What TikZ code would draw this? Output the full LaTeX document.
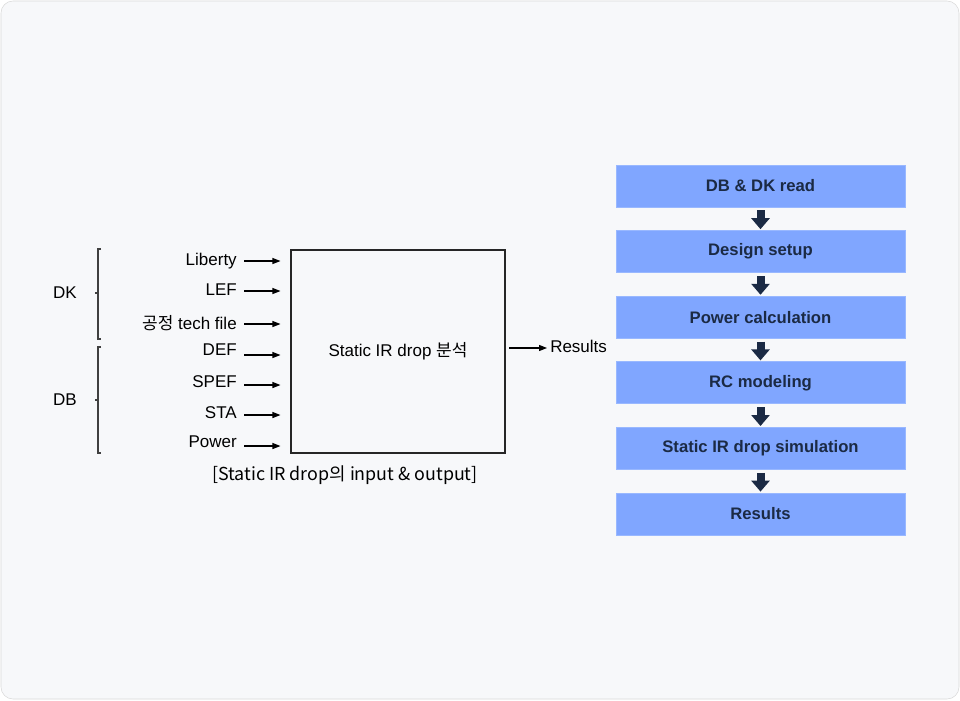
\documentclass[tikz,border=0pt]{standalone}
\usepackage{fontspec}
\setmainfont{Liberation Sans}
\newfontfamily\kr{Noto Sans CJK KR}
\usepackage{tikz}
\usetikzlibrary{arrows.meta,positioning,calc}

\definecolor{panel}{HTML}{F7F8FA}
\definecolor{stepblue}{HTML}{80A6FF}
\definecolor{navy}{HTML}{1B2A44}

\tikzset{
  inarrow/.style={-{Triangle[length=6pt,width=4.5pt]}, line width=0.8pt},
  inlabel/.style={anchor=base east, inner sep=0pt},
  brace/.style={draw=black!75, line width=0.8pt},
  stepbox/.style={fill=stepblue, draw=stepblue!80!white, line width=0.6pt,
    minimum width=216.75pt, minimum height=31.5pt, inner sep=0pt,
    text=navy, font=\fontsize{12.5}{14}\selectfont\bfseries},
  flowarrow/.style={-{Triangle[length=8.25pt,width=13.5pt]}, navy, line width=6pt,
    shorten <=2.25pt, shorten >=0.75pt}
}

\begin{document}
\begin{tikzpicture}[x=0.75pt, y=-0.75pt, font=\fontsize{12.75}{15}\selectfont]
  \useasboundingbox (0,0) rectangle (960,700);
  \fill[white] (0,0) rectangle (960,700);
  \draw[fill=panel, draw=black!15, rounded corners=9pt] (1,1) rectangle (959,699);

  % analysis block
  \node[draw=black!85, line width=0.8pt, minimum width=160.5pt, minimum height=152.25pt] (box) at (398,351.5)
    {Static IR drop {\kr 분석}};

  % inputs
  \foreach \i/\t/\y/\a in {1/Liberty/259/261, 2/LEF/289/291, 3/{\kr 공정} tech file/323/324,
                           4/DEF/349/355, 5/SPEF/381/385, 6/STA/412/415, 7/Power/441/446} {
    \node[inlabel] (in\i) at (237,\y+6) {\t};
    \coordinate (tail\i) at (244,\a);
    \draw[inarrow, shorten >=7.5pt] (tail\i) -- (tail\i -| box.west);
  }

  % DK / DB brackets
  \draw[brace] (101,249) -- (98,249) -- (98,339) -- (101,339);
  \draw[brace] (98,293) -- (95,293);
  \node (dk) at (65,293) {DK};
  \draw[brace] (101,347) -- (98,347) -- (98,453) -- (101,453);
  \draw[brace] (98,400) -- (95,400);
  \node (db) at (65,400) {DB};

  % output
  \node[anchor=west, inner sep=0pt] (res) at (550,346) {Results};
  \coordinate (out) at (509,348);
  \draw[inarrow, shorten >=2.25pt] (out) -- (out -| res.west);

  \node[font=\kr\fontsize{13.4}{15}\selectfont] (cap) at (345,475) {[Static IR drop의 input \& output]};

  % flow
  \foreach \i/\t in {1/DB \& DK read, 2/Design setup, 3/Power calculation,
                     4/RC modeling, 5/Static IR drop simulation, 6/Results}
    \node[stepbox] (s\i) at (760.5,{186+65.6*(\i-1)}) {\t};
  \foreach \i [evaluate=\i as \j using int(\i+1)] in {1,...,5}
    \draw[flowarrow] (s\i) -- (s\j);
\end{tikzpicture}
\end{document}
